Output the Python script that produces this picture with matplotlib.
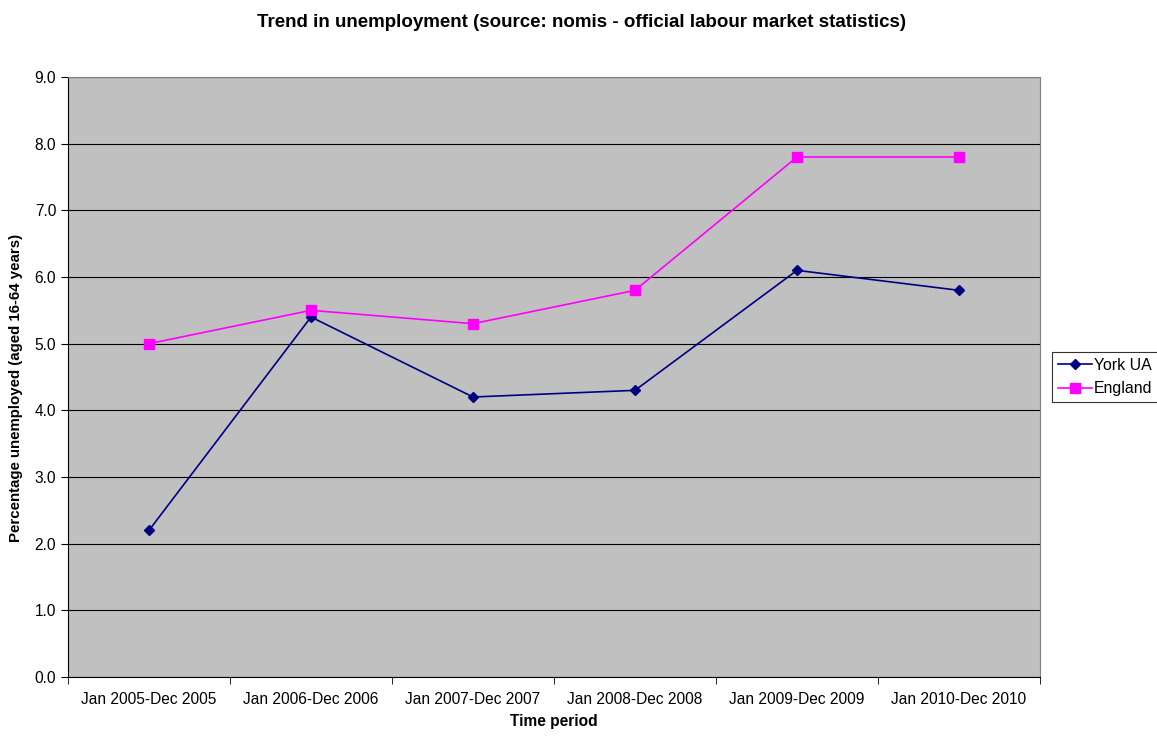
import matplotlib
matplotlib.use('Agg')
from matplotlib import pyplot as plt
from matplotlib.ticker import FixedLocator, NullFormatter

plt.rcParams['font.family'] = ['Liberation Sans', 'DejaVu Sans']

periods = ['Jan 2005-Dec 2005', 'Jan 2006-Dec 2006', 'Jan 2007-Dec 2007',
           'Jan 2008-Dec 2008', 'Jan 2009-Dec 2009', 'Jan 2010-Dec 2010']
york = [2.2, 5.4, 4.2, 4.3, 6.1, 5.8]
england = [5.0, 5.5, 5.3, 5.8, 7.8, 7.8]

fig = plt.figure(figsize=(11.57, 7.36), dpi=100)
ax = fig.add_axes([68 / 1157, 59 / 736, 972 / 1157, 600 / 736])
ax.set_facecolor('#c0c0c0')

x = list(range(len(periods)))
ax.plot(x, york, color='#000080', marker='D', markersize=5, linewidth=1.2, label='York UA')
ax.plot(x, england, color='#ff00ff', marker='s', markersize=7, linewidth=1.2, label='England')

ax.set_xlim(-0.5, len(periods) - 0.5)
ax.set_ylim(0, 9)
ax.set_yticks([i * 1.0 for i in range(10)])
ax.set_yticklabels([f'{i:.1f}' for i in range(10)])
ax.yaxis.grid(True, color='black', linewidth=0.8)
ax.set_axisbelow(True)

ax.set_xticks(x)
ax.set_xticklabels(periods)
ax.tick_params(axis='x', which='major', length=0, pad=11)
ax.xaxis.set_minor_locator(FixedLocator([i - 0.5 for i in range(len(periods) + 1)]))
ax.xaxis.set_minor_formatter(NullFormatter())
ax.tick_params(axis='x', which='minor', length=5, direction='out')
ax.tick_params(axis='y', length=5, direction='out')
ax.tick_params(labelsize=11.2)

for side in ['top', 'right']:
    ax.spines[side].set_color('#808080')
for side in ['left', 'bottom']:
    ax.spines[side].set_color('black')

ax.set_xlabel('Time period', fontsize=11.2, fontweight='bold', labelpad=5)
ax.set_ylabel('Percentage unemployed (aged 16-64 years)', fontsize=10.8, fontweight='bold')
ax.yaxis.set_label_coords(-0.046, 0.482)
fig.suptitle('Trend in unemployment (source: nomis - official labour market statistics)',
             fontsize=13.5, fontweight='bold', x=0.503, y=0.981)

leg = fig.legend(loc='upper left', bbox_to_anchor=(1052 / 1157, 1 - 352 / 736),
                 fontsize=11.4, frameon=True, fancybox=False, borderpad=0.35,
                 handlelength=2.2, labelspacing=0.55, handletextpad=0.1,
                 borderaxespad=0)
leg.get_frame().set_edgecolor('black')
leg.get_frame().set_linewidth(0.8)

fig.savefig('out.png', dpi=100)
